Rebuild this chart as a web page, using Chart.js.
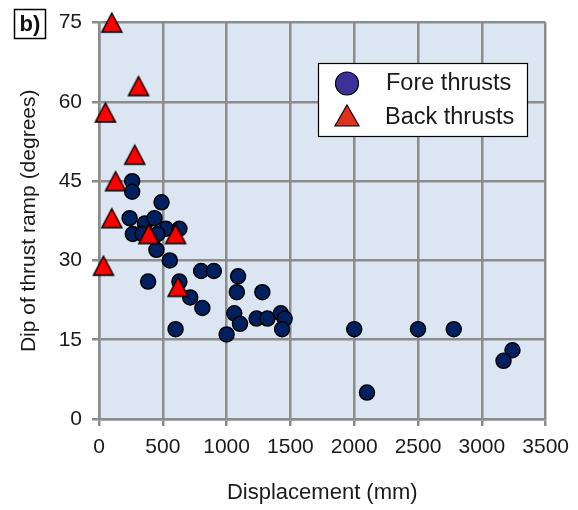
<!DOCTYPE html>
<html>
<head>
<meta charset="utf-8">
<script src="https://cdn.jsdelivr.net/npm/chart.js@4.4.1/dist/chart.umd.min.js"></script>
<style>
  html, body { margin: 0; padding: 0; background: #fff; }
  #wrap { width: 578px; height: 510px; }
</style>
</head>
<body>
<div id="wrap"><canvas id="dipChart" width="578" height="510"></canvas></div>
<script>
// fore thrusts (circles)
const foreX = [260, 260, 490, 240, 360, 435, 265, 340, 525, 630, 460, 450, 555, 800, 900, 1090, 1080, 1280, 385, 630,
               715, 810, 1060, 1105, 1235, 1320, 1425, 1455, 1435, 600, 1000, 2000, 2500, 2780, 2100, 3240, 3170];
const foreY = [45, 43, 41, 38, 37, 38, 35, 35, 36, 36, 35, 32, 30, 28, 28, 27, 24, 24, 26, 26,
               23, 21, 20, 18, 19, 19, 20, 19, 17, 17, 16, 17, 17, 17, 5, 13, 11];

// back thrusts (triangles)
const backX = [100, 310, 50, 280, 130, 100, 390, 600, 35, 620];
const backY = [75, 63, 58, 50, 45, 38, 35, 35, 29, 25];

const xTicks = [0, 500, 1000, 1500, 2000, 2500, 3000, 3500];
const yTicks = [0, 15, 30, 45, 60, 75];

const FONT = "'Liberation Sans', Arial, Helvetica, sans-serif";
const GRID = '#8c8c8c';

function toPoints(xs, ys) {
    return xs.map((x, i) => ({ x: x, y: ys[i] }));
}

// triangle marker centred on its bounding box (like the spreadsheet one)
function makeTriangle(w, h, fill) {
    const c = document.createElement('canvas');
    c.width = w + 4;
    c.height = h + 4;
    const g = c.getContext('2d');
    g.beginPath();
    g.moveTo(c.width / 2, 2);
    g.lineTo(c.width - 2, h + 2);
    g.lineTo(2, h + 2);
    g.closePath();
    g.fillStyle = fill;
    g.fill();
    g.lineWidth = 1.5;
    g.strokeStyle = '#000';
    g.stroke();
    return c;
}

const triMarker = makeTriangle(20, 19, '#ff0000');

const plotBg = {
    id: 'plotBg',
    beforeDraw(chart) {
        const a = chart.chartArea;
        const ctx = chart.ctx;
        ctx.save();
        ctx.fillStyle = '#dce6f2';
        ctx.fillRect(a.left, a.top, a.right - a.left, a.bottom - a.top);
        ctx.restore();
    }
};

const extras = {
    id: 'extras',
    afterDraw(chart) {
        const ctx = chart.ctx;
        ctx.save();

        // panel label
        ctx.strokeStyle = '#000';
        ctx.lineWidth = 1.5;
        ctx.strokeRect(14.5, 9.5, 31, 29);
        ctx.fillStyle = '#111';
        ctx.font = 'bold 22px ' + FONT;
        ctx.textAlign = 'center';
        ctx.textBaseline = 'middle';
        ctx.fillText('b)', 30, 25);

        // legend box
        ctx.fillStyle = '#fff';
        ctx.fillRect(318, 63, 209, 73);
        ctx.lineWidth = 1.2;
        ctx.strokeStyle = '#000';
        ctx.strokeRect(318.5, 63.5, 209, 73);

        ctx.beginPath();
        ctx.arc(347, 83.5, 11.5, 0, Math.PI * 2);
        ctx.fillStyle = '#3d3199';
        ctx.fill();
        ctx.lineWidth = 1.2;
        ctx.stroke();

        ctx.beginPath();
        ctx.moveTo(347, 105);
        ctx.lineTo(359, 126);
        ctx.lineTo(335, 126);
        ctx.closePath();
        ctx.fillStyle = '#e0301e';
        ctx.fill();
        ctx.stroke();

        ctx.fillStyle = '#1a1a1a';
        ctx.font = '23.5px ' + FONT;
        ctx.textAlign = 'left';
        ctx.textBaseline = 'middle';
        ctx.fillText(chart.data.datasets[0].label, 386, 84);
        ctx.fillText(chart.data.datasets[1].label, 385, 118);

        ctx.restore();
    }
};

const ctx = document.getElementById('dipChart').getContext('2d');
new Chart(ctx, {
    type: 'scatter',
    data: {
        datasets: [{
            label: 'Fore thrusts',
            data: toPoints(foreX, foreY),
            pointStyle: 'circle',
            pointRadius: 7.5,
            pointHoverRadius: 7.5,
            backgroundColor: '#002060',
            borderColor: '#000',
            borderWidth: 1.5,
            clip: false,
            order: 2
        }, {
            label: 'Back thrusts',
            data: toPoints(backX, backY),
            pointStyle: triMarker,
            pointRadius: 10,
            backgroundColor: '#ff0000',
            borderColor: '#000',
            clip: false,
            order: 1
        }]
    },
    options: {
        responsive: false,
        animation: false,
        layout: {
            padding: { top: 21, right: 27, left: 0, bottom: 0 }
        },
        plugins: {
            legend: { display: false },
            tooltip: { enabled: false }
        },
        scales: {
            x: {
                type: 'linear',
                min: 0,
                max: 3500,
                afterBuildTicks: (scale) => { scale.ticks = xTicks.map(v => ({ value: v })); },
                afterFit: (scale) => { scale.height = 91; },
                grid: { color: GRID, lineWidth: 2.5, tickLength: 7, tickColor: GRID },
                border: { color: GRID, width: 2.5 },
                ticks: {
                    color: '#1a1a1a',
                    font: { family: FONT, size: 21 },
                    padding: 9,
                    maxRotation: 0,
                    callback: (v) => String(v)
                },
                title: {
                    display: true,
                    text: 'Displacement (mm)',
                    color: '#1a1a1a',
                    font: { family: FONT, size: 22 },
                    padding: { top: 0, bottom: 4 }
                }
            },
            y: {
                type: 'linear',
                min: 0,
                max: 75,
                afterBuildTicks: (scale) => { scale.ticks = yTicks.map(v => ({ value: v })); },
                afterFit: (scale) => { scale.width = 99; },
                grid: { color: GRID, lineWidth: 2.5, tickLength: 7, tickColor: GRID },
                border: { color: GRID, width: 2.5 },
                ticks: {
                    color: '#1a1a1a',
                    font: { family: FONT, size: 21 },
                    padding: 10,
                    callback: (v) => String(v)
                },
                title: {
                    display: true,
                    text: 'Dip of thrust ramp (degrees)',
                    color: '#1a1a1a',
                    font: { family: FONT, size: 21 },
                    padding: { top: 17, bottom: 0 }
                }
            }
        }
    },
    plugins: [plotBg, extras]
});
</script>
</body>
</html>
